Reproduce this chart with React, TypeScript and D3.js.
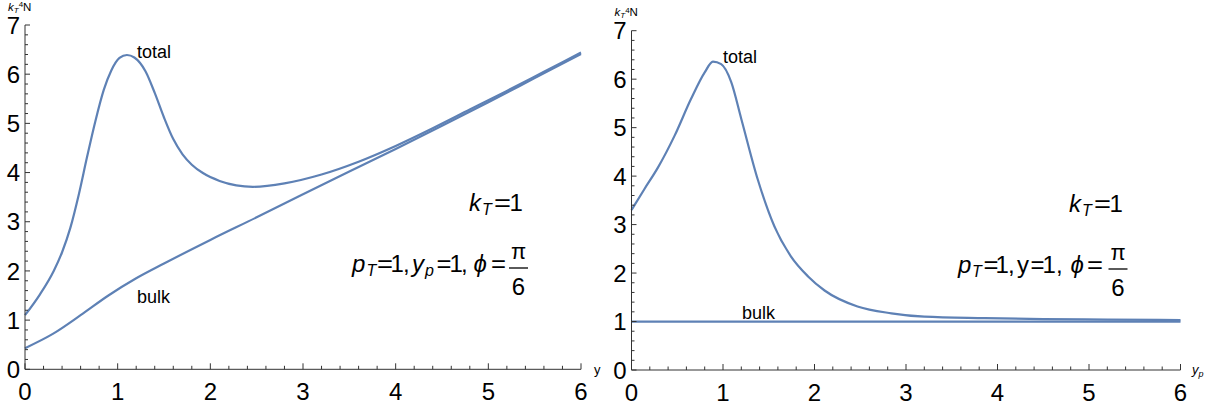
import React from "react";
import * as d3 from "d3";

// left plot: k_T = 1, p_T = 1, y_p = 1, phi = pi/6 (x axis is y)
const leftTotalX = [0, 0.16, 0.31, 0.4, 0.49, 0.58, 0.67, 0.76, 0.85, 0.93, 1.02, 1.1, 1.18, 1.3, 1.4, 1.5, 1.6, 1.7, 1.8, 1.92, 2.1, 2.28, 2.46, 2.8, 3.2, 3.6, 4.0, 4.4, 4.8, 5.2, 5.6, 6.0];
const leftTotalY = [1.1, 1.52, 2.0, 2.38, 2.88, 3.55, 4.32, 5.05, 5.68, 6.07, 6.33, 6.39, 6.34, 6.06, 5.62, 5.12, 4.68, 4.37, 4.16, 3.99, 3.83, 3.74, 3.71, 3.78, 3.96, 4.22, 4.54, 4.9, 5.28, 5.66, 6.05, 6.44];
const leftBulkX = [0, 0.3, 0.6, 0.9, 1.2, 1.5, 2.0, 2.5, 3.0, 3.5, 4.0, 4.5, 5.0, 5.5, 6.0];
const leftBulkY = [0.43, 0.72, 1.1, 1.5, 1.85, 2.15, 2.63, 3.09, 3.56, 4.02, 4.48, 4.95, 5.43, 5.92, 6.41];

// right plot: k_T = 1, p_T = 1, y = 1, phi = pi/6 (x axis is y_p)
const rightTotalX = [0, 0.14, 0.29, 0.47, 0.65, 0.8, 0.89, 0.98, 1.09, 1.2, 1.38, 1.56, 1.74, 1.93, 2.11, 2.47, 2.84, 3.2, 3.86, 4.5, 5.2, 6.0];
const rightTotalY = [3.3, 3.73, 4.18, 4.83, 5.59, 6.14, 6.36, 6.31, 5.94, 5.18, 3.93, 2.97, 2.35, 1.93, 1.64, 1.31, 1.17, 1.1, 1.07, 1.05, 1.04, 1.03];
const rightBulkX = [0, 2, 4, 6];
const rightBulkY = [1, 1, 1, 1];

const xTicks = [0, 1, 2, 3, 4, 5, 6];
const yTicks = [0, 1, 2, 3, 4, 5, 6, 7];

const FONT = "'Liberation Sans', Arial, sans-serif";
const LINE = "#5E81B5";
const AXIS = "#333";

type Pt = [number, number];
// piece of a formula: text, x, baseline shift, size, italic, stretched width
type Seg = { t: string; x: number; dy?: number; s?: number; it?: boolean; w?: number };

const zip = (xs: number[], ys: number[]): Pt[] => xs.map((x, i) => [x, ys[i]]);

const Formula = ({ segs, y }: { segs: Seg[]; y: number }) => (
  <g>
    {segs.map((g, i) => (
      <text
        key={i}
        x={g.x}
        y={y + (g.dy || 0)}
        fontSize={g.s || 24}
        fontStyle={g.it ? "italic" : "normal"}
        textLength={g.w}
        lengthAdjust={g.w ? "spacingAndGlyphs" : undefined}
        fill="#000"
      >
        {g.t}
      </text>
    ))}
  </g>
);

const Panel = ({ x0, x1, y0, y1, total, bulk, xLabel, labels, kSegs, kY, pSegs, pY, fx }: any) => {
  const x = d3.scaleLinear().domain([0, 6]).range([x0, x1]);
  const y = d3.scaleLinear().domain([0, 7]).range([y0, y1]);
  const line = d3
    .line<Pt>()
    .x((d) => x(d[0]))
    .y((d) => y(d[1]))
    .curve(d3.curveMonotoneX);

  const minorX = d3.range(0, 6.001, 0.2).filter((t) => Math.abs(t - Math.round(t)) > 0.01);
  const minorY = d3.range(0, 7.001, 0.2).filter((t) => Math.abs(t - Math.round(t)) > 0.01);

  return (
    <g fontFamily={FONT}>
      {/* curves */}
      <path d={line(bulk) || ""} fill="none" stroke={LINE} strokeWidth={2.2} />
      <path d={line(total) || ""} fill="none" stroke={LINE} strokeWidth={2.2} />

      {/* axes */}
      <line x1={x0} x2={x1} y1={y0} y2={y0} stroke={AXIS} strokeWidth={1} />
      <line x1={x0} x2={x0} y1={y0} y2={y1} stroke={AXIS} strokeWidth={1} />
      {xTicks.map((t) => (
        <g key={"xt" + t}>
          <line x1={x(t)} x2={x(t)} y1={y0} y2={y0 - 6} stroke={AXIS} />
          <text x={x(t)} y={y0 + 31} textAnchor="middle" fontSize={24} fill="#000">
            {t}
          </text>
        </g>
      ))}
      {minorX.map((t) => (
        <line key={"xm" + t} x1={x(t)} x2={x(t)} y1={y0} y2={y0 - 3.5} stroke={AXIS} />
      ))}
      {yTicks.map((t) => (
        <g key={"yt" + t}>
          <line x1={x0} x2={x0 + 5} y1={y(t)} y2={y(t)} stroke={AXIS} />
          <text x={x0 - 5} y={y(t) + 8.6} textAnchor="end" fontSize={24} fill="#000">
            {t}
          </text>
        </g>
      ))}
      {minorY.map((t) => (
        <line key={"ym" + t} x1={x0} x2={x0 + 3} y1={y(t)} y2={y(t)} stroke={AXIS} />
      ))}

      {/* axis labels */}
      <text x={x0 - 17} y={y1 - 14.5} fontSize={11.5} fill="#000">
        <tspan fontStyle="italic">k</tspan>
        <tspan fontStyle="italic" fontSize={8} dy={2}>T</tspan>
        <tspan fontSize={8} dy={-5.5}>4</tspan>
        <tspan dy={3.5}>N</tspan>
      </text>
      {xLabel}

      {/* curve labels */}
      <text x={labels.tx} y={labels.ty} fontSize={18} fill="#000">total</text>
      <text x={labels.bx} y={labels.by} fontSize={18} fill="#000">bulk</text>

      {/* parameters */}
      <Formula segs={kSegs} y={kY} />
      <Formula segs={pSegs} y={pY} />
      <line x1={fx - 9.5} x2={fx + 9.5} y1={pY - 4} y2={pY - 4} stroke="#000" strokeWidth={1.3} />
      <text x={fx} y={pY - 13} textAnchor="middle" fontSize={22} fill="#000">π</text>
      <text x={fx} y={pY + 23} textAnchor="middle" fontSize={24} fill="#000">6</text>
    </g>
  );
};

const kLeft: Seg[] = [
  { t: "k", x: 469, it: true },
  { t: "T", x: 482, dy: 4, s: 16, it: true },
  { t: "=", x: 494, w: 17 },
  { t: "1", x: 509.5 },
];
const kRight: Seg[] = [
  { t: "k", x: 1069, it: true },
  { t: "T", x: 1082, dy: 4, s: 16, it: true },
  { t: "=", x: 1094, w: 17 },
  { t: "1", x: 1109.5 },
];
const pLeft: Seg[] = [
  { t: "p", x: 352, it: true },
  { t: "T", x: 366.5, dy: 4, s: 16, it: true },
  { t: "=", x: 377, w: 16 },
  { t: "1", x: 390.5 },
  { t: ",", x: 403 },
  { t: "y", x: 412, it: true },
  { t: "p", x: 425, dy: 4, s: 16, it: true },
  { t: "=", x: 436.5, w: 15 },
  { t: "1", x: 449.5 },
  { t: ",", x: 461 },
  { t: "ϕ", x: 473.5, it: true },
  { t: "=", x: 491, w: 15 },
];
const pRight: Seg[] = [
  { t: "p", x: 958, it: true },
  { t: "T", x: 972, dy: 4, s: 16, it: true },
  { t: "=", x: 983.5, w: 15 },
  { t: "1", x: 995.5 },
  { t: ",", x: 1008 },
  { t: "y", x: 1017 },
  { t: "=", x: 1030.5, w: 14 },
  { t: "1", x: 1042.5 },
  { t: ",", x: 1056 },
  { t: "ϕ", x: 1070.5, it: true },
  { t: "=", x: 1087, w: 16 },
];

export default function App() {
  return (
    <svg
      width={1219}
      height={410}
      style={{ position: "absolute", left: 0, top: 0, background: "#fff" }}
    >
      <Panel
        x0={25}
        x1={581}
        y0={369.3}
        y1={25}
        total={zip(leftTotalX, leftTotalY)}
        bulk={zip(leftBulkX, leftBulkY)}
        xLabel={
          <text x={594} y={374} fontSize={13} fill="#000" fontFamily={FONT}>y</text>
        }
        labels={{ tx: 137, ty: 58, bx: 137, by: 303 }}
        kSegs={kLeft}
        kY={211}
        pSegs={pLeft}
        pY={272}
        fx={518.5}
      />
      <Panel
        x0={631.5}
        x1={1180.5}
        y0={370}
        y1={30.7}
        total={zip(rightTotalX, rightTotalY)}
        bulk={zip(rightBulkX, rightBulkY)}
        xLabel={
          <text x={1192} y={374} fontSize={13} fill="#000" fontFamily={FONT}>
            <tspan fontStyle="italic">y</tspan>
            <tspan fontStyle="italic" fontSize={9} dy={3}>p</tspan>
          </text>
        }
        labels={{ tx: 723, ty: 62.5, bx: 742, by: 319 }}
        kSegs={kRight}
        kY={211.5}
        pSegs={pRight}
        pY={273}
        fx={1118}
      />
    </svg>
  );
}
